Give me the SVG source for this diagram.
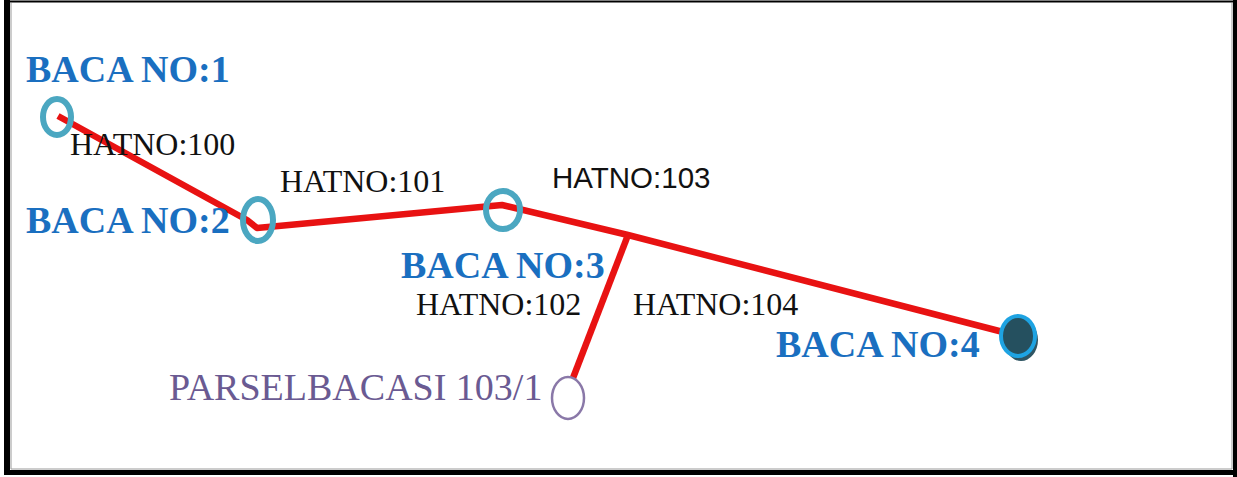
<svg xmlns="http://www.w3.org/2000/svg" width="1237" height="477" viewBox="0 0 1237 477">
<style>
.baca{font-family:"Liberation Serif",serif;font-weight:bold;font-size:38px;fill:#1a6fc0}
.hat{font-family:"Liberation Serif",serif;font-size:32px;fill:#111}
.hats{font-family:"Liberation Sans",sans-serif;font-size:29.5px;fill:#111}
.parsel{font-family:"Liberation Serif",serif;font-size:38px;fill:#6a5a92}
.mh{fill:none;stroke:#4ba7c1;stroke-width:6}
.pipe{fill:none;stroke:#e81212;stroke-width:6.5;stroke-linejoin:round}
</style>
<rect x="0" y="0" width="1237" height="477" fill="#fff"/>
<g id="frame">
<line x1="7" y1="0" x2="7" y2="475" stroke="#000" stroke-width="6"/>
<line x1="4" y1="472.5" x2="1237" y2="472.5" stroke="#000" stroke-width="5"/>
<line x1="1235" y1="0" x2="1235" y2="477" stroke="#000" stroke-width="4"/>
<line x1="4" y1="1.5" x2="1237" y2="1.5" stroke="#000" stroke-width="2"/>
<line x1="11" y1="3" x2="11" y2="469" stroke="#999" stroke-width="1"/>
<line x1="1232" y1="3" x2="1232" y2="469" stroke="#999" stroke-width="1"/>
<line x1="11" y1="469" x2="1232" y2="469" stroke="#999" stroke-width="1"/>
</g>
<g id="connectors">
<polyline class="pipe" points="58,116 247,220 257,228 502,205 628,235 1003,332"/>
<line class="pipe" x1="628" y1="235" x2="573" y2="378"/>
</g>
<g id="baca1">
<ellipse class="mh" cx="57" cy="117" rx="14" ry="18"/>
<text class="baca" x="26" y="82">BACA NO:1</text>
</g>
<g id="baca2">
<ellipse class="mh" cx="258" cy="220" rx="15" ry="21"/>
<text class="baca" x="26" y="233">BACA NO:2</text>
</g>
<g id="baca3">
<ellipse class="mh" cx="503" cy="210" rx="17" ry="19"/>
<text class="baca" x="401" y="278">BACA NO:3</text>
</g>
<g id="baca4">
<ellipse cx="1021" cy="340" rx="17" ry="21" fill="#2f5563"/>
<ellipse cx="1018" cy="336" rx="17" ry="20" fill="#25505f" stroke="#1ea3e2" stroke-width="4"/>
<text class="baca" x="776" y="357">BACA NO:4</text>
</g>
<g id="parsel">
<ellipse cx="568" cy="398" rx="16" ry="21" fill="#fff" stroke="#8a78a8" stroke-width="2.5"/>
<text class="parsel" x="169" y="400">PARSELBACASI 103/1</text>
</g>
<g id="labels">
<text class="hat" x="70" y="155">HATNO:100</text>
<text class="hat" x="280" y="192">HATNO:101</text>
<text class="hat" x="416" y="315">HATNO:102</text>
<text class="hats" x="552" y="188">HATNO:103</text>
<text class="hat" x="633" y="315">HATNO:104</text>
</g>
</svg>
